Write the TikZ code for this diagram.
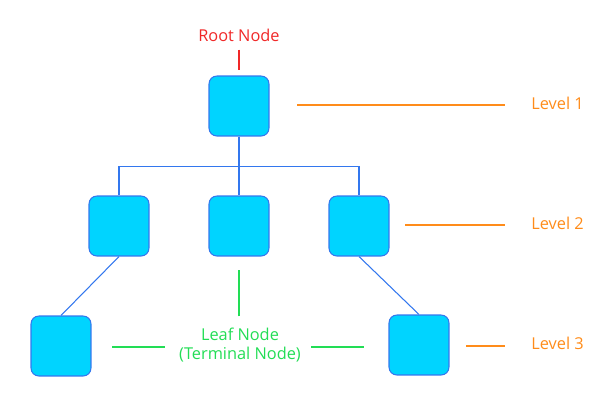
\documentclass[tikz,border=0pt]{standalone}
\usepackage{fontspec}
\setmainfont{Open Sans}
\usetikzlibrary{positioning}
\definecolor{boxfill}{HTML}{00D4FF}
\definecolor{boxline}{HTML}{3377EE}
\definecolor{rootred}{HTML}{F02828}
\definecolor{levelorange}{HTML}{FF8C1A}
\definecolor{leafgreen}{HTML}{22DD55}
\tikzset{
    treenode/.style={
           rectangle,
           rounded corners=4.5pt,
           draw=boxline, line width=0.6pt,
           fill=boxfill,
           minimum width=1.2cm,
           minimum height=1.2cm,
           inner sep=0pt,
           },
    link/.style={draw=boxline, line width=0.6pt},
    pointer/.style={line width=0.7pt},
    tag/.style={font=\fontsize{9.3}{11.2}\selectfont, inner sep=0pt},
}

\begin{document}
\begin{tikzpicture}[x=0.02cm, y=-0.02cm]
      \useasboundingbox (0,0) rectangle (600,400);
      % tree
      \node[treenode] (n_0) at (239,106) {};
      \node[treenode] (n_1) at (119,226) {};
      \node[treenode] (n_2) at (239,226) {};
      \node[treenode] (n_3) at (359,226) {};
      \node[treenode] (n_4) at (61,346)  {};
      \node[treenode] (n_5) at (419,345) {};
      \draw[link] (n_0.south) -- ++(0,30) -| (n_1.north);
      \draw[link] (n_0.south) -- (n_2.north);
      \draw[link] (n_0.south) -- ++(0,30) -| (n_3.north);
      \draw[link] (n_1.south) -- (n_4.north);
      \draw[link] (n_3.south) -- (n_5.north);
      % root label
      \node[tag, text=rootred] (root) at (239,35) {Root Node};
      \coordinate (root_end) at (239,70);
      \draw[pointer, rootred] (root.south)++(0,8) -- (root_end);
      % levels
      \node[tag, text=levelorange, anchor=west] (lvl_1) at (531,103) {Level 1};
      \node[tag, text=levelorange, anchor=west] (lvl_2) at (531,223) {Level 2};
      \node[tag, text=levelorange, anchor=west] (lvl_3) at (531,343) {Level 3};
      \coordinate (lvl_1_end) at (297,105);
      \coordinate (lvl_2_end) at (405,225);
      \coordinate (lvl_3_end) at (466,346);
      \draw[pointer, levelorange] (lvl_1.west)++(-26,2) -- (lvl_1_end);
      \draw[pointer, levelorange] (lvl_2.west)++(-26,2) -- (lvl_2_end);
      \draw[pointer, levelorange] (lvl_3.west)++(-26,3) -- (lvl_3_end);
      % leaves
      \node[tag, text=leafgreen, align=center] (leaf) at (240,345)
           {Leaf Node\\(Terminal Node)};
      \coordinate (leaf_up) at (239,270);
      \coordinate (leaf_left) at (112,347);
      \coordinate (leaf_right) at (364,347);
      \draw[pointer, leafgreen] (leaf.north)++(-1,-11) -- (leaf_up);
      \draw[pointer, leafgreen] (leaf.west)++(-14,2) -- (leaf_left);
      \draw[pointer, leafgreen] (leaf.east)++(10,2) -- (leaf_right);
\end{tikzpicture}
\end{document}
